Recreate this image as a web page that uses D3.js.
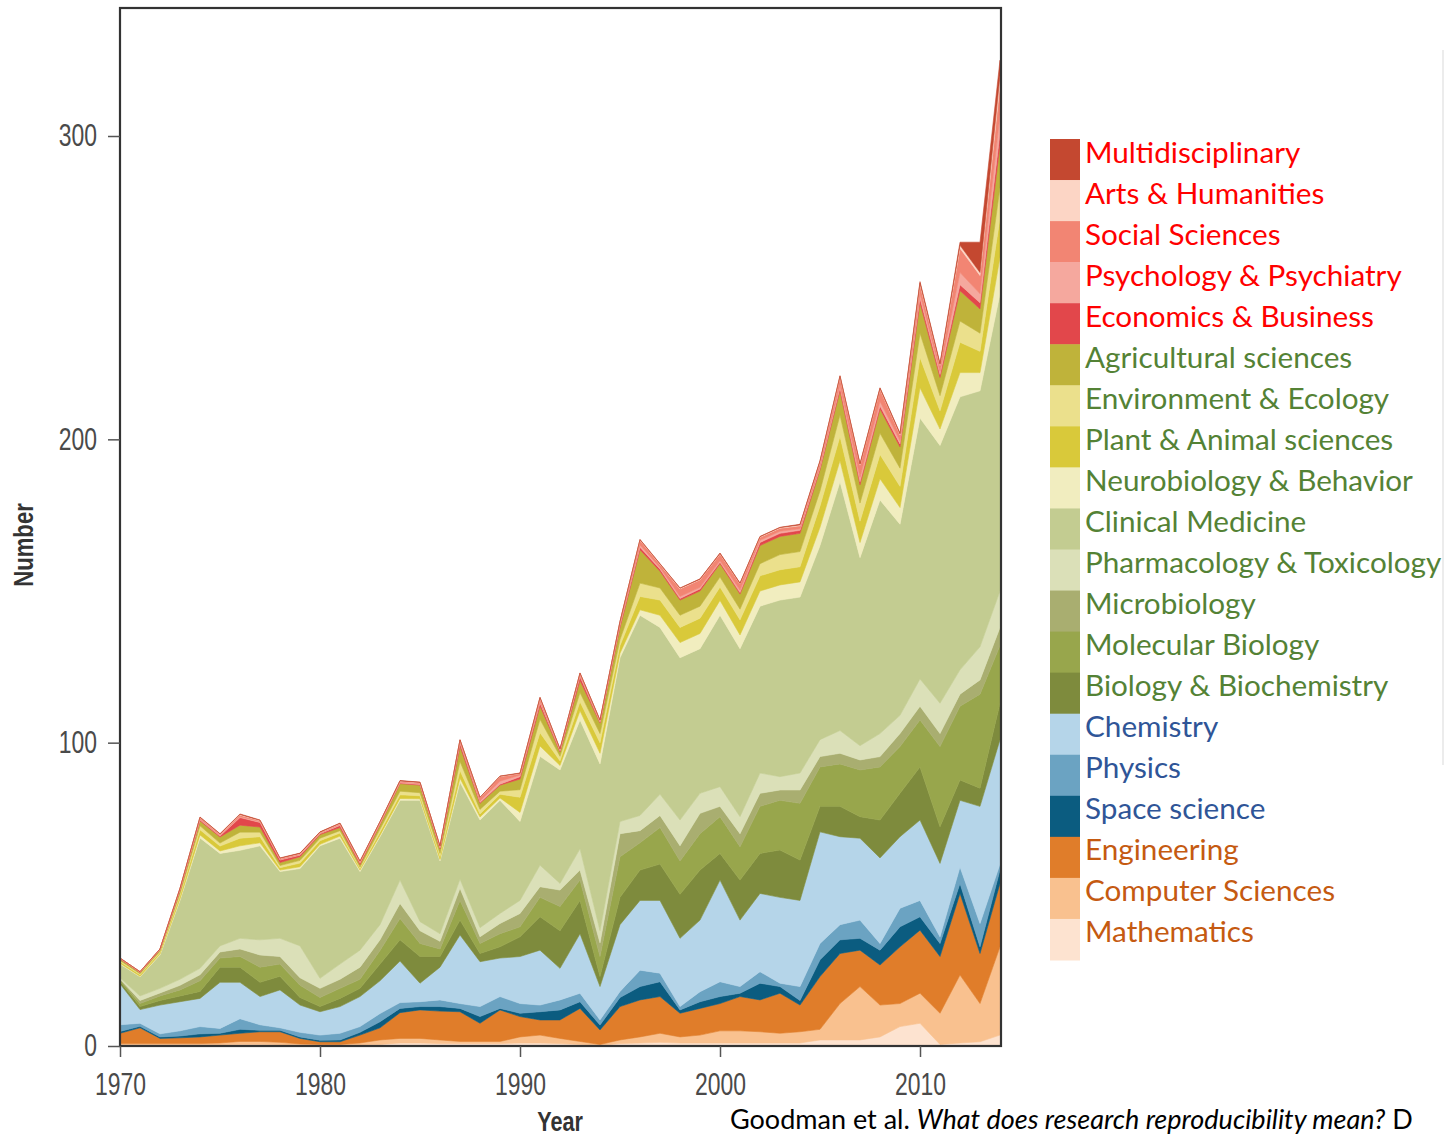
<!DOCTYPE html>
<html><head><meta charset="utf-8">
<script src="https://cdn.jsdelivr.net/npm/d3@7"></script>
<style>
body{margin:0;background:#fff;}
svg{display:block;}
.axis text{font-family:"Liberation Sans",Arial,sans-serif;font-size:31px;fill:#4a4a4a;}
.axis line{stroke:#555;stroke-width:1.5px;}
.axis path{display:none;}
.lab{font-family:"Liberation Sans",Arial,sans-serif;font-weight:bold;font-size:27px;fill:#333;}
.leg{font-family:Lato,"Open Sans",sans-serif;font-size:29.7px;}
.cap{font-family:Lato,"Open Sans",sans-serif;font-size:27px;fill:#000;}
</style>
</head><body>
<svg id="chart" width="1445" height="1138"></svg>
<script>
const years = [1970,1971,1972,1973,1974,1975,1976,1977,1978,1979,1980,1981,1982,1983,1984,1985,1986,1987,1988,1989,1990,1991,1992,1993,1994,1995,1996,1997,1998,1999,2000,2001,2002,2003,2004,2005,2006,2007,2008,2009,2010,2011,2012,2013,2014];

// Series values (bottom of stack to top)
const mathematics = [0.3,0.3,0.3,0.3,0.3,0.3,0.5,0.5,0.3,0.2, 0.2,0.2,0.3,0.5,1,1,0.8,0.8,0.8,0.8, 1,1,0.8,0.5,0.2,0.8,1,1.2,1,1, 1,1,1,1,1,2,2,2,3,6.4, 7.5,0.5,1,1.4,3.6];
const computerSciences = [0.5,0.5,0.5,0.5,0.5,0.7,1,1,0.9,0.5, 0.3,0.3,0.7,1.5,1.5,1.5,1.2,0.7,0.7,0.7, 2,2.6,1.7,1,0.3,1.2,2,3,2,2.6, 4,4,3.7,3.2,3.7,3.5,12,17.6,10.5,7.6, 9.9,10.3,22.4,12.6,29.1];
const engineering = [3.4,5.2,1.7,1.9,2.2,2.6,2.7,3.2,3.5,1.8, 0.9,0.9,2.6,4,8.5,9.4,9.5,9.8,6,10.4, 6.7,5,6.1,10.9,4.8,11,12.2,12.1,7.8,8.8, 9,11.3,10.5,13.2,8.8,17.4,16.5,12,13.2,18.7, 20.8,18.7,26.9,16.5,20.9];
const spaceScience = [0.6,0.5,0.5,0.6,1,0.6,1.3,0.5,0.5,0.5, 0.5,0.6,0.9,2,1.4,1.1,1.5,1.1,2.2,0.5, 1.1,2.7,3.3,2.2,1.6,3,4.4,4.9,1.1,2.2, 2.3,1.1,5.5,2.2,1.5,5.5,4.5,3.9,4.9,6.6, 4.4,4.3,3.3,2.2,4.4];
const physics = [2.2,1,1,1.7,2.4,1.6,3.5,1.8,0.8,1.5, 1.7,2.2,1.9,2.7,1.9,1.6,2.2,1.6,3.3,3.9, 3.2,2.2,3.3,2.8,1.7,2,5.4,2.8,1.1,3.3, 4.9,2.2,3.8,1.1,4.6,5.4,5,6,2.2,6.1, 5.4,2.2,5.4,7.7,2];
const chemistry = [13.5,4.5,9.5,9.6,9.3,15.2,12,9.3,12.5,9, 7.7,8.8,9.9,10.8,13.7,6.1,10.8,22.6,14.8,12.7, 15.5,18.1,10.4,19.6,11,22,23,24,22.5,23.6, 33.5,21.9,25.8,28.3,28.4,36.8,29,27,28.2,23.6, 26.5,24.2,22,38.6,41];
const biologyBiochemistry = [0.8,1,1.5,1.9,2.3,5,5,4.7,4.5,2.5, 1.7,2.7,2.7,5.5,7,8.8,3.5,4.9,2.7,3.7, 6.5,11,12.4,11,3.3,9,10,12,14.5,16.5, 8.8,13.2,13.2,15.6,13.3,8.4,10,7.1,12.5,14.3, 17.5,12.1,6.7,6,12];
const molecularBiology = [0.5,1,1.5,2,3.5,3,3.5,5,4,4, 3,3.3,3,4.5,7,4.3,2.5,6.5,3.3,4.3, 3.3,6.4,8,6.7,6.6,13.4,9,12,11,12, 12.1,11,15.5,16.4,18.7,13,14,15.4,17.5,15.4, 15.5,26.4,24.3,31,19];
const microbiology = [0.3,1,1,1.5,2,2,2.5,4,2.5,2.5, 3,3,4,3.5,5,4.2,2.5,4,2.2,3.4, 4.4,3.5,5.4,3.3,4.5,7.6,4,4,5,6.7, 3.4,4.3,4.3,3.4,4.4,3.4,3.5,3.3,3.4,4.3, 4.5,4.3,4,4.7,6];
const pharmacologyToxicology = [0.4,1.5,1.5,2,2.1,2,3.5,5,6,10.5, 3.3,5,5.6,5,7.7,3,2.5,3,3,3.3, 4.3,7.1,2.2,7,4,4,5,7,8.5,6.6, 6.5,5.6,6.7,4.4,5.6,5.6,7.5,4.7,7.6,6, 9,10,8,10.9,12];
const clinicalMedicine = [4.5,6.3,11,26,43,30.5,29,31,22,25.5, 43.7,41.5,25.9,29,26.3,40,24,32,35.5,37.3, 26,35.9,37.4,42.5,55,54,66,55,53.5,47.7, 56.5,55.4,55,58.2,58,64,82,62,77,63, 86,85,90,84.4,98];
const neurobiologyBehavior = [0.3,0.2,0.3,0.5,1,0.8,1.5,1,0.5,0.6, 0.5,0.7,0.5,0.5,0.6,0.5,0.5,1.3,1,0.8, 3,3.4,1.5,3,3.5,1.5,1.8,4,5,5, 4.9,4.5,5,5,5,6,7,5,7,5.5, 10,5.4,8,6,12];
const plantAnimal = [0.5,0.5,0.5,1,1.7,1.6,2.5,2,0.8,1.2, 1.2,1,0.5,1,1.2,1,1,2.5,1,1.2, 5,4.4,1.5,3,3.5,2.5,4.4,5,5,5, 4.4,5,5,5,5,7,8,7,8,7, 10,6,10,7,13];
const environmentEcology = [0.4,0.3,0.4,0.8,1.3,1,2,1.5,0.7,0.9, 0.8,0.8,0.5,1,1.2,1,1,3,1.5,1, 2.5,4.4,1.5,3,3,2,4.4,4,4,4, 3.3,3.5,4,5,5,5,7,6,7,6, 8,5,7,6,10];
const agriculturalSciences = [0.5,0.4,0.5,1,1.6,2,2.3,1.7,1,1.2, 1.2,1,0.8,1.5,2.5,2.5,1.5,5,2,2, 3.5,4.4,1.5,4,3.5,4,11,5.5,5,5, 4.4,5,6,6,6,7,8,6,8,7, 10,6,10,8,14];
const economicsBusiness = [0.1,0.1,0.1,0.2,0.3,0.3,2.5,1.5,0.8,0.5, 0.3,0.7,0.5,0.2,0.2,0.2,0.3,1,0.3,0.3, 0.8,1,0.3,1.3,0.2,0.7,0.8,0.7,0.5,0.7, 0.5,0.5,1,1,1,0.5,1,1,1,1, 1.5,1,2,2,4];
const psychologyPsychiatry = [0.1,0.1,0.1,0.2,0.3,0.3,0.3,0.3,0.2,0.2, 0.2,0.3,0.2,0.3,0.3,0.3,0.2,0.5,0.5,1, 0.5,0.5,0.2,0.5,0.3,0.3,0.8,0.5,0.7,0.5, 0.5,0.8,0.7,0.7,0.5,0.5,1,1.5,1.5,1, 1.5,1,4,3,6];
const socialSciences = [0.1,0.1,0.1,0.2,0.5,0.3,0.5,0.3,0.3,0.3, 0.2,0.3,0.3,0.3,0.3,0.3,0.3,0.5,1,1.5, 0.5,1,0.3,0.5,0.3,0.8,1.5,1,2.5,2.5, 2.2,2,1,1,1,1.5,2.5,4,4,2, 3,2,8,6,10];
const artsHumanities = [0,0,0,0.05,0.1,0.1,0.2,0.1,0.1,0.1, 0.1,0.1,0.1,0.1,0.1,0.1,0.1,0.1,0.1,0.1, 0.1,0.2,0.1,0.1,0.1,0.1,0.2,0.2,0.2,0.2, 0.2,0.2,0.2,0.2,0.3,0.3,0.3,0.3,0.3,0.3, 0.5,0.3,1,1,3];
const multidisciplinary = [0,0,0,0.05,0.1,0.1,0.2,0.1,0.1,0.1, 0.1,0.1,0.1,0.1,0.1,0.1,0.1,0.1,0.1,0.1, 0.1,0.2,0.1,0.1,0.1,0.1,0.1,0.1,0.1,0.1, 0.1,0.1,0.1,0.1,0.2,0.2,0.2,0.2,0.2,0.2, 0.5,0.3,1,10,5];

const yTicks = [0,100,200,300];
const xTicks = [1970,1980,1990,2000,2010];

// stack order, bottom to top
const series = [
  {name:"Mathematics", values:mathematics, color:"#fde3d0", text:"#c55a11"},
  {name:"Computer Sciences", values:computerSciences, color:"#f9c18f", text:"#c55a11"},
  {name:"Engineering", values:engineering, color:"#e07d2a", text:"#c55a11"},
  {name:"Space science", values:spaceScience, color:"#0b5c80", text:"#2f5597"},
  {name:"Physics", values:physics, color:"#6ba3c2", text:"#2f5597"},
  {name:"Chemistry", values:chemistry, color:"#b5d5e9", text:"#2f5597"},
  {name:"Biology & Biochemistry", values:biologyBiochemistry, color:"#7e8b3d", text:"#548235"},
  {name:"Molecular Biology", values:molecularBiology, color:"#98a64c", text:"#548235"},
  {name:"Microbiology", values:microbiology, color:"#a9ae70", text:"#548235"},
  {name:"Pharmacology & Toxicology", values:pharmacologyToxicology, color:"#dbe0b8", text:"#548235"},
  {name:"Clinical Medicine", values:clinicalMedicine, color:"#c3cc91", text:"#548235"},
  {name:"Neurobiology & Behavior", values:neurobiologyBehavior, color:"#f1edbf", text:"#548235"},
  {name:"Plant & Animal sciences", values:plantAnimal, color:"#d9c93a", text:"#548235"},
  {name:"Environment & Ecology", values:environmentEcology, color:"#ebe08c", text:"#548235"},
  {name:"Agricultural sciences", values:agriculturalSciences, color:"#bfb33a", text:"#548235"},
  {name:"Economics & Business", values:economicsBusiness, color:"#e2474b", text:"#ff0000"},
  {name:"Psychology & Psychiatry", values:psychologyPsychiatry, color:"#f5a89e", text:"#ff0000"},
  {name:"Social Sciences", values:socialSciences, color:"#f28573", text:"#ff0000"},
  {name:"Arts & Humanities", values:artsHumanities, color:"#fcd5c5", text:"#ff0000"},
  {name:"Multidisciplinary", values:multidisciplinary, color:"#c44830", text:"#ff0000"}
];

const table = years.map((yr, i) => {
  const o = {year: yr};
  series.forEach(s => { o[s.name] = s.values[i]; });
  return o;
});

const svg = d3.select("#chart");
const x = d3.scaleLinear().domain([1970, 2014]).range([120, 1000]);
const y = d3.scaleLinear().domain([0, 342.2]).range([1046, 8]);

const stack = d3.stack().keys(series.map(s => s.name));
const layers = stack(table);
const area = d3.area()
  .x(d => x(d.data.year))
  .y0(d => y(d[0]))
  .y1(d => y(d[1]));

svg.append("g").selectAll("path").data(layers).join("path")
  .attr("d", area)
  .attr("fill", (d, i) => series[i].color)
  .attr("stroke", (d, i) => series[i].color)
  .attr("stroke-width", 0.6)
  .attr("stroke-linejoin", "round");

// frame
svg.append("rect").attr("x", 120).attr("y", 8).attr("width", 881).attr("height", 1038)
  .attr("fill", "none").attr("stroke", "#333").attr("stroke-width", 2.2);

// axes (condensed look via horizontal scaling of labels)
const sx = 0.74;
const yAxis = svg.append("g").attr("class", "axis").attr("transform", "translate(120,0)")
  .call(d3.axisLeft(y).tickValues(yTicks).tickSize(12).tickPadding(10));
yAxis.selectAll(".tick text").attr("x", -23 / sx).attr("transform", `scale(${sx},1)`);

const xAxis = svg.append("g").attr("class", "axis").attr("transform", "translate(0,1046)")
  .call(d3.axisBottom(x).tickValues(xTicks).tickFormat(d3.format("d")).tickSize(11).tickPadding(16));
xAxis.selectAll(".tick text").attr("transform", `scale(${sx},1)`);

svg.append("text").attr("class", "lab")
  .attr("transform", "translate(33,545) rotate(-90) scale(0.82,1)")
  .attr("text-anchor", "middle").text("Number");
svg.append("text").attr("class", "lab")
  .attr("transform", "translate(560,1131) scale(0.8,1)")
  .attr("text-anchor", "middle").text("Year");

// legend (top = last stacked)
const legendItems = series.slice().reverse();
const lg = svg.append("g");
const rowH = 41.05;
legendItems.forEach((s, i) => {
  lg.append("rect").attr("x", 1050).attr("y", 139 + i * rowH).attr("width", 30).attr("height", rowH + 0.5)
    .attr("fill", s.color);
  lg.append("text").attr("class", "leg").attr("x", 1085).attr("y", 162.5 + i * rowH)
    .attr("fill", s.text).text(s.name);
});

// caption
const cap = svg.append("text").attr("class", "cap").attr("x", 730).attr("y", 1129);
cap.append("tspan").text("Goodman et al. ");
cap.append("tspan").attr("font-style", "italic").text("What does research reproducibility mean?");
cap.append("tspan").text(" D");

svg.append("line").attr("x1", 1443).attr("x2", 1443).attr("y1", 50).attr("y2", 765)
  .attr("stroke", "#e6e6e6").attr("stroke-width", 1.5);
</script>
</body></html>
